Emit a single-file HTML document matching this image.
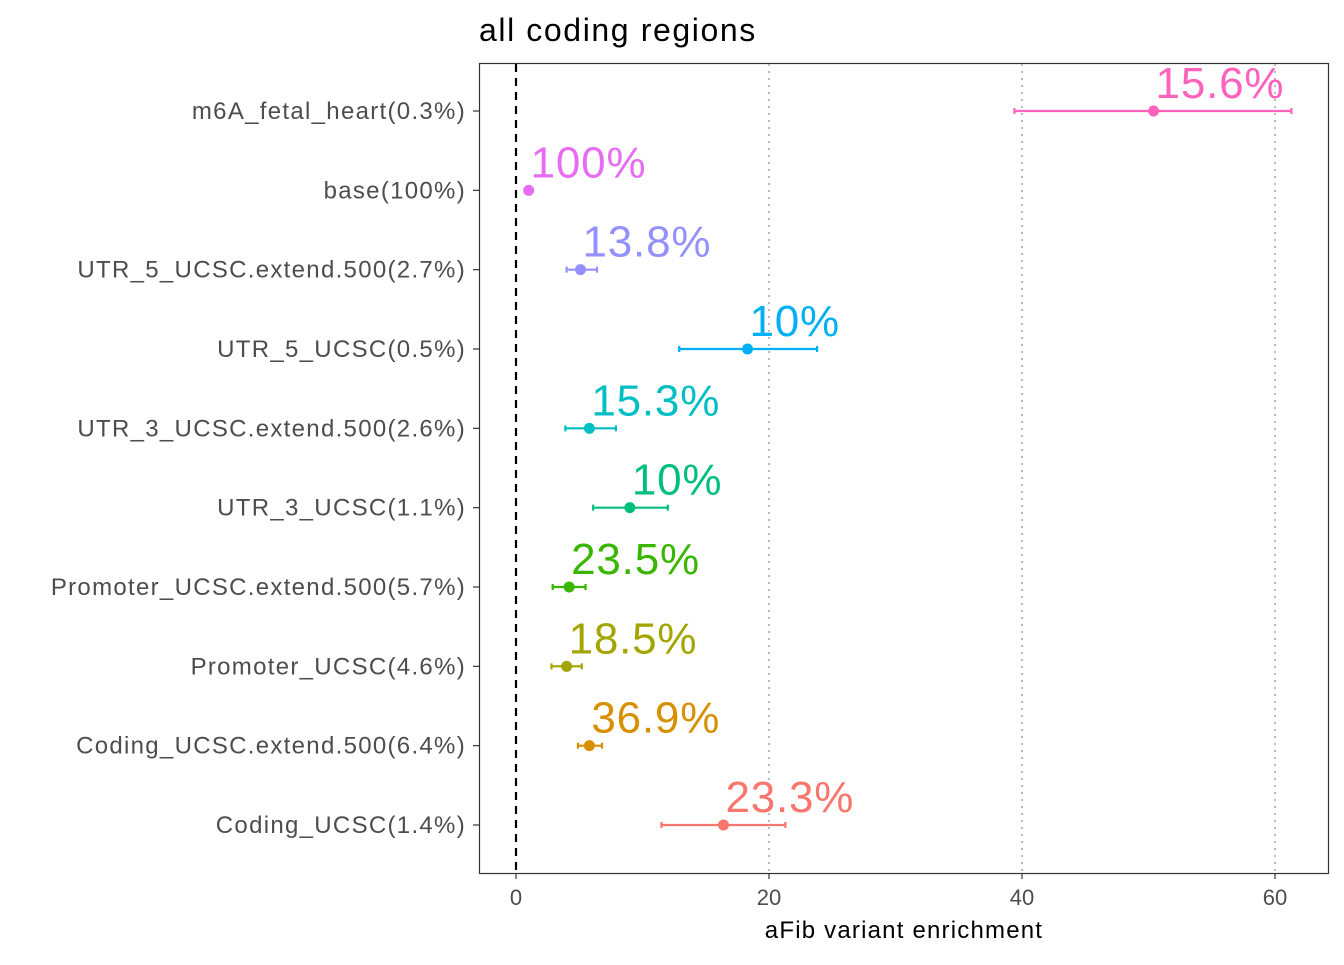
<!DOCTYPE html>
<html><head><meta charset="utf-8"><style>
body{margin:0;background:#fff;font-family:"Liberation Sans",sans-serif}
svg text{font-family:"Liberation Sans",sans-serif}
</style></head><body>
<svg id="chart" width="1344" height="960">
<text x="479" y="41" font-size="32" letter-spacing="1.6" fill="#000">all coding regions</text>
<rect x="479.5" y="63.5" width="849" height="810" fill="none" stroke="#333" stroke-width="1.2"/>
<g id="grid"></g><g id="marks"></g><g id="axes"></g>
<text x="904" y="938" font-size="24" letter-spacing="1.2" text-anchor="middle" fill="#000">aFib variant enrichment</text>
</svg>
<script>
const categories=["Coding_UCSC(1.4%)","Coding_UCSC.extend.500(6.4%)","Promoter_UCSC(4.6%)","Promoter_UCSC.extend.500(5.7%)","UTR_3_UCSC(1.1%)","UTR_3_UCSC.extend.500(2.6%)","UTR_5_UCSC(0.5%)","UTR_5_UCSC.extend.500(2.7%)","base(100%)","m6A_fetal_heart(0.3%)"];
const estimates=[16.4,5.8,4.0,4.2,9.0,5.8,18.3,5.1,1.0,50.4];
const lower=[11.5,4.9,2.8,2.9,6.1,3.9,12.9,4.0,1.0,39.4];
const upper=[21.3,6.8,5.2,5.5,12.0,7.9,23.8,6.4,1.0,61.3];
const pctLabels=["23.3%","36.9%","18.5%","23.5%","10%","15.3%","10%","13.8%","100%","15.6%"];
const colors=["#F8766D","#D89000","#A3A500","#39B600","#00BF7D","#00BFC4","#00B0F6","#9590FF","#E76BF3","#FF62BC"];
const xTicks=[0,20,40,60];
const NS="http://www.w3.org/2000/svg";
const x=v=>516+v*(1275-516)/60;
const y=i=>825-i*(825-111)/9;
function mk(tag,attrs,parent,txt){const e=document.createElementNS(NS,tag);for(const k in attrs)e.setAttribute(k,attrs[k]);if(txt!==undefined)e.textContent=txt;document.getElementById(parent).appendChild(e);return e;}
xTicks.forEach(t=>{
 if(t!==0){const g=mk("line",{x1:x(t),x2:x(t),y1:64,y2:873,stroke:"#bbb","stroke-width":2,"stroke-dasharray":"2,5"},"grid");
 
 }
 const tk=mk("line",{x1:x(t),x2:x(t),y1:873,y2:879,stroke:"#333","stroke-width":1.2},"axes");
 
 
 const tl=mk("text",{x:x(t),y:905,"font-size":22,"text-anchor":"middle",fill:"#4d4d4d"},"axes",String(t));
 
 
});
const zl=mk("line",{x1:x(0),x2:x(0),y1:64,y2:873,stroke:"#000","stroke-width":2.2,"stroke-dasharray":"8,6"},"grid");


categories.forEach((c,i)=>{
 const yy=y(i),col=colors[i];
 const tk=mk("line",{x1:473,x2:479,y1:yy,y2:yy,stroke:"#333","stroke-width":1.2},"axes");
 
 
 const tl=mk("text",{x:466,y:yy+8,"font-size":24,"letter-spacing":1.3,"text-anchor":"end",fill:"#4d4d4d"},"axes",c);
 
 
 const eb=mk("path",{d:`M${x(lower[i])},${yy}H${x(upper[i])}M${x(lower[i])},${yy-3}V${yy+3}M${x(upper[i])},${yy-3}V${yy+3}`,stroke:col,"stroke-width":2.2,fill:"none"},"marks");
 
 
 const pt=mk("circle",{cx:x(estimates[i]),cy:yy,r:5.5,fill:col},"marks");
 
 
 const lb=mk("text",{x:x(estimates[i])+2,y:yy-13,"font-size":44,"letter-spacing":0.8,fill:col},"marks",pctLabels[i]);
 
 
});
</script>
</body></html>
